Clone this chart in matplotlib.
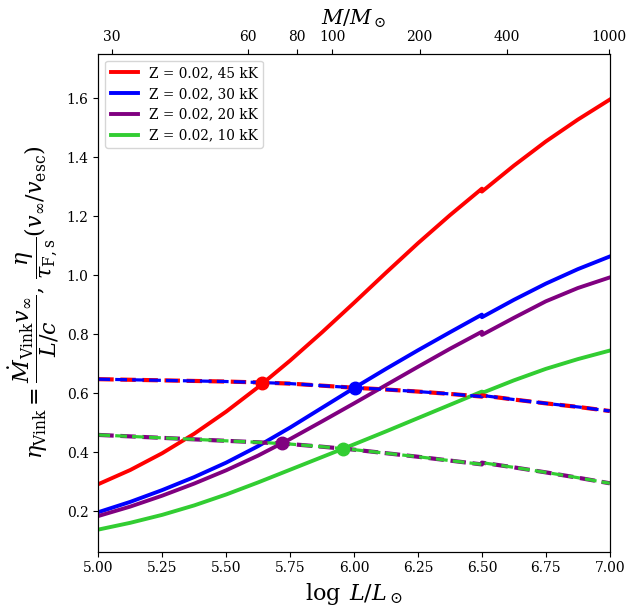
import numpy as np
import matplotlib
matplotlib.use("Agg")
import matplotlib.pyplot as plt

plt.rcParams['font.family'] = 'DejaVu Serif'
plt.rcParams['mathtext.fontset'] = 'dejavuserif'

# log L/Lsun grid (6.5 twice: the curves jump there)
logL = [5.0, 5.125, 5.25, 5.375, 5.5, 5.625, 5.75, 5.875, 6.0, 6.125, 6.25,
        6.375, 6.5, 6.5, 6.625, 6.75, 6.875, 7.0]

# eta_Vink (solid)
eta_45 = [0.291, 0.339, 0.396, 0.462, 0.537, 0.620, 0.710, 0.806, 0.906, 1.008, 1.108,
          1.203, 1.293, 1.283, 1.371, 1.453, 1.527, 1.595]
eta_30 = [0.196, 0.231, 0.271, 0.315, 0.364, 0.420, 0.483, 0.550, 0.617, 0.682, 0.745,
          0.806, 0.866, 0.857, 0.916, 0.971, 1.020, 1.063]
eta_20 = [0.183, 0.215, 0.252, 0.293, 0.338, 0.388, 0.444, 0.504, 0.565, 0.627, 0.689,
          0.750, 0.808, 0.797, 0.855, 0.911, 0.956, 0.992]
eta_10 = [0.137, 0.160, 0.187, 0.219, 0.256, 0.297, 0.340, 0.383, 0.426, 0.470, 0.515,
          0.560, 0.605, 0.600, 0.643, 0.682, 0.715, 0.744]

# eta/tau (v_inf/v_esc) (dashed)
tau_hot = [0.647, 0.645, 0.643, 0.641, 0.639, 0.636, 0.632, 0.625, 0.618, 0.612, 0.605,
           0.597, 0.588, 0.592, 0.578, 0.565, 0.553, 0.539]
tau_cool = [0.458, 0.453, 0.448, 0.443, 0.438, 0.433, 0.427, 0.418, 0.408, 0.396, 0.384,
            0.371, 0.358, 0.364, 0.348, 0.331, 0.313, 0.294]

# intersections
cross_L = [5.642, 6.003, 5.719, 5.957]
cross_eta = [0.633, 0.618, 0.430, 0.410]

labels = ["Z = 0.02, 45 kK", "Z = 0.02, 30 kK", "Z = 0.02, 20 kK", "Z = 0.02, 10 kK"]
colors = ["red", "blue", "purple", "limegreen"]

# top axis: mass ticks and where they sit in log L
mass_ticks = [30, 60, 80, 100, 200, 400, 1000]
mass_logL = [5.052, 5.584, 5.778, 5.915, 6.256, 6.598, 6.998]

fig = plt.figure(figsize=(6.28, 6.12), dpi=100)
ax = fig.add_axes([0.1565, 0.0985, 0.8145, 0.8135])

for eta, lab, c in zip([eta_45, eta_30, eta_20, eta_10], labels, colors):
    ax.plot(logL, eta, color=c, lw=2.8, label=lab)

# dashed pairs drawn on top of each other (dash length follows lw)
ax.plot(logL, tau_hot, color="red", lw=3.0, ls="--")
ax.plot(logL, tau_hot, color="blue", lw=2.3, ls="--")
ax.plot(logL, tau_cool, color="purple", lw=3.0, ls="--")
ax.plot(logL, tau_cool, color="limegreen", lw=2.3, ls="--")

for x, y, c in zip(cross_L, cross_eta, colors):
    ax.plot(x, y, "o", color=c, ms=9)

ax.set_xlim(5.0, 7.0)
ax.set_ylim(0.062, 1.75)
ax.tick_params(labelsize=10)
ax.set_xlabel(r"$\log\;L/L_\odot$", fontsize=16)
ax.set_ylabel(r"$\eta_{\rm Vink} = \dfrac{\dot M_{\rm Vink} v_\infty}{L/c},\, \dfrac{\eta}{\tau_{\rm F,s}}(v_\infty/v_{\rm esc})$",
              fontsize=16)
ax.legend(loc="upper left", fontsize=9.8)

ax2 = ax.twiny()
ax2.set_xlim(ax.get_xlim())
ax2.set_xticks(mass_logL)
ax2.set_xticklabels([str(m) for m in mass_ticks])
ax2.tick_params(labelsize=10)
ax2.set_xlabel(r"$M/M_\odot$", fontsize=15)

plt.savefig("out.png", dpi=100)
